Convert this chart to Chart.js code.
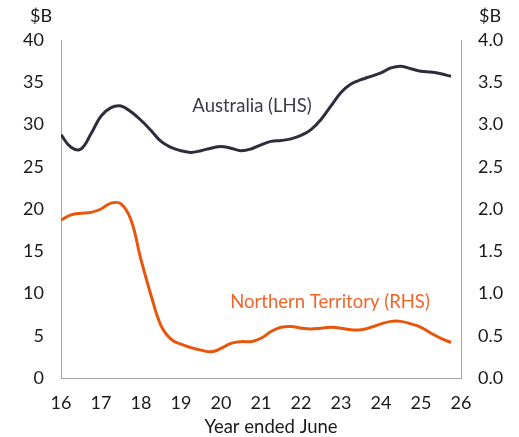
<!DOCTYPE html>
<html>
<head>
<meta charset="utf-8">
<script src="https://cdn.jsdelivr.net/npm/chart.js@4"></script>
<style>
  html, body { margin: 0; padding: 0; background: #fff; }
  #wrap { width: 519px; height: 437px; }
</style>
</head>
<body>
<div id="wrap"><canvas id="chart" width="519" height="437"></canvas></div>
<script>
// quarterly points, year ended June (16 = 2015-16)
const years = [
  16.0, 16.25, 16.5, 16.75, 17.0, 17.25, 17.5, 17.75,
  18.0, 18.25, 18.5, 18.75, 19.0, 19.25, 19.5, 19.75,
  20.0, 20.25, 20.5, 20.75, 21.0, 21.25, 21.5, 21.75,
  22.0, 22.25, 22.5, 22.75, 23.0, 23.25, 23.5, 23.75,
  24.0, 24.25, 24.5, 24.75, 25.0, 25.25, 25.5, 25.75
];

// Australia, $B (LHS)
const australia = [
  28.8, 27.3, 27.1, 28.9, 31.0, 32.0, 32.2, 31.5,
  30.5, 29.3, 28.0, 27.3, 26.9, 26.7, 26.9, 27.2,
  27.4, 27.2, 26.9, 27.1, 27.6, 28.0, 28.1, 28.3,
  28.7, 29.4, 30.6, 32.2, 33.8, 34.8, 35.3, 35.7,
  36.1, 36.7, 36.9, 36.6, 36.3, 36.2, 36.0, 35.7
];

// Northern Territory, $B (RHS)
const northernTerritory = [
  1.87, 1.93, 1.95, 1.96, 2.00, 2.07, 2.06, 1.87,
  1.40, 0.98, 0.62, 0.46, 0.40, 0.36, 0.33, 0.31,
  0.35, 0.41, 0.43, 0.43, 0.47, 0.55, 0.60, 0.61,
  0.59, 0.58, 0.59, 0.60, 0.59, 0.57, 0.57, 0.60,
  0.64, 0.67, 0.67, 0.64, 0.60, 0.53, 0.47, 0.42
];

const xTicks = [16, 17, 18, 19, 20, 21, 22, 23, 24, 25, 26];
const lhsTicks = [0, 5, 10, 15, 20, 25, 30, 35, 40];
const rhsTicks = [0, 0.5, 1, 1.5, 2, 2.5, 3, 3.5, 4];

const FONT = 'Lato, "Open Sans", sans-serif';
const TEXT = '#1a1a1a';
const AXIS = '#a6a6a6';

// extra text: units and series labels
const labelsPlugin = {
  id: 'labels',
  afterDraw(chart) {
    const ctx = chart.ctx;
    ctx.save();
    ctx.textBaseline = 'middle';
    ctx.textAlign = 'center';
    ctx.font = '18px ' + FONT;
    ctx.fillStyle = TEXT;
    ctx.fillText('$B', 41, 16);
    ctx.fillText('$B', 490, 16);
    ctx.font = '18.5px ' + FONT;
    ctx.fillText('Year ended June', 271, 427);

    ctx.fillStyle = '#3b3c46';
    ctx.fillText('Australia (LHS)', 252, 106);
    ctx.fillStyle = '#f0642a';
    ctx.fillText('Northern Territory (RHS)', 330, 302);
    ctx.restore();
  }
};

const ctx = document.getElementById('chart').getContext('2d');

new Chart(ctx, {
  type: 'line',
  data: {
    datasets: [
      {
        label: 'Australia (LHS)',
        data: years.map((x, i) => ({ x: x, y: australia[i] })),
        borderColor: '#2c2e3b',
        borderWidth: 3,
        pointRadius: 0,
        tension: 0.4,
        yAxisID: 'y',
      },
      {
        label: 'Northern Territory (RHS)',
        data: years.map((x, i) => ({ x: x, y: northernTerritory[i] })),
        borderColor: '#e8560c',
        borderWidth: 3,
        pointRadius: 0,
        tension: 0.4,
        yAxisID: 'y1',
      },
    ],
  },
  options: {
    responsive: false,
    animation: false,
    layout: { padding: { top: 40, left: 0, right: 0, bottom: 0 } },
    plugins: {
      legend: { display: false },
      tooltip: { enabled: false },
    },
    scales: {
      x: {
        type: 'linear',
        min: 16,
        max: 26,
        afterFit: (scale) => { scale.height = 59; },
        afterBuildTicks: (scale) => { scale.ticks = xTicks.map(v => ({ value: v })); },
        grid: { display: false, drawTicks: false },
        border: { display: true, color: AXIS, width: 1 },
        ticks: {
          color: TEXT,
          padding: 14,
          maxRotation: 0,
          autoSkip: false,
          font: { family: FONT, size: 18 },
        },
      },
      y: {
        position: 'left',
        min: 0,
        max: 40,
        afterFit: (scale) => { scale.width = 61; },
        afterBuildTicks: (scale) => { scale.ticks = lhsTicks.map(v => ({ value: v })); },
        grid: { display: false, drawTicks: false },
        border: { display: true, color: AXIS, width: 1 },
        ticks: {
          color: TEXT,
          padding: 17,
          font: { family: FONT, size: 18 },
        },
      },
      y1: {
        position: 'right',
        min: 0,
        max: 4,
        afterFit: (scale) => { scale.width = 58; },
        afterBuildTicks: (scale) => { scale.ticks = rhsTicks.map(v => ({ value: v })); },
        grid: { display: false, drawTicks: false },
        border: { display: true, color: AXIS, width: 1 },
        ticks: {
          color: TEXT,
          padding: 17,
          font: { family: FONT, size: 18 },
          callback: (v) => v.toFixed(1),
        },
      },
    },
  },
  plugins: [labelsPlugin],
});
</script>
</body>
</html>
